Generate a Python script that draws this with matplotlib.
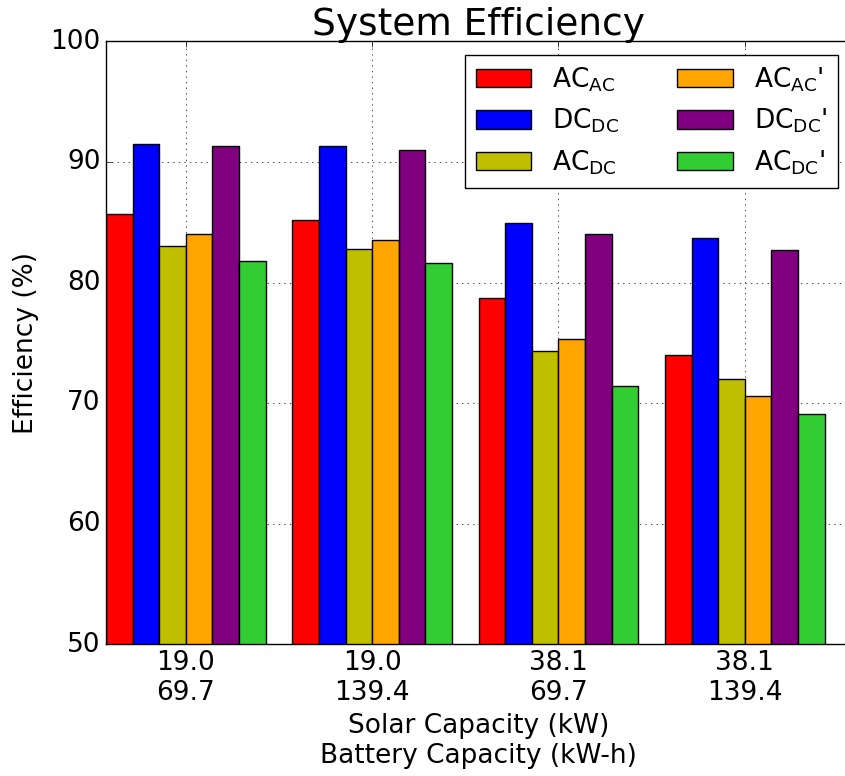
import numpy as np
import matplotlib
matplotlib.use('Agg')
import matplotlib.pyplot as plt

plt.style.use('classic')
plt.rcParams['mathtext.fontset'] = 'dejavusans'

solar = ['19.0', '19.0', '38.1', '38.1']
battery = ['69.7', '139.4', '69.7', '139.4']

series_names = [r'AC$_{\mathrm{AC}}$', r'DC$_{\mathrm{DC}}$', r'AC$_{\mathrm{DC}}$',
                r"AC$_{\mathrm{AC}}$'", r"DC$_{\mathrm{DC}}$'", r"AC$_{\mathrm{DC}}$'"]
colors = ['r', 'b', 'y', 'orange', 'purple', 'limegreen']

ac_ac = [85.7, 85.2, 78.7, 74.0]
dc_dc = [91.5, 91.3, 84.9, 83.7]
ac_dc = [83.0, 82.8, 74.3, 72.0]
ac_ac_p = [84.0, 83.5, 75.3, 70.6]
dc_dc_p = [91.3, 91.0, 84.0, 82.7]
ac_dc_p = [81.8, 81.6, 71.4, 69.1]
series = [ac_ac, dc_dc, ac_dc, ac_ac_p, dc_dc_p, ac_dc_p]

fs = 19
ind = np.arange(len(solar))
width = 1.0 / 7

fig = plt.figure(figsize=(8.452, 7.762), dpi=100, facecolor='white')
ax = fig.add_axes([106 / 845, 1 - 644.5 / 776, 745 / 845, 603 / 776])

for i, (vals, name, c) in enumerate(zip(series, series_names, colors)):
    ax.bar(ind + i * width, vals, width, align='edge', color=c, label=name)

ax.set_xlim(0, 4)
ax.set_ylim(50, 100)
ax.set_xticks(ind + 3 * width)
ax.set_xticklabels([s + '\n' + b for s, b in zip(solar, battery)], fontsize=fs)
ax.set_yticks([50, 60, 70, 80, 90, 100])
ax.tick_params(axis='y', labelsize=fs)
ax.grid(True)
ax.set_axisbelow(True)

ax.set_ylabel('Efficiency (%)', fontsize=fs, labelpad=8)
ax.set_xlabel('Solar Capacity (kW)\nBattery Capacity (kW-h)', fontsize=fs)
ax.set_title('System Efficiency', fontsize=27)
ax.legend(loc='upper right', ncol=2, fontsize=fs, borderaxespad=0.5,
          handlelength=2.1, columnspacing=2.2, labelspacing=0.5)

fig.savefig('out.png', dpi=100, facecolor='white')
